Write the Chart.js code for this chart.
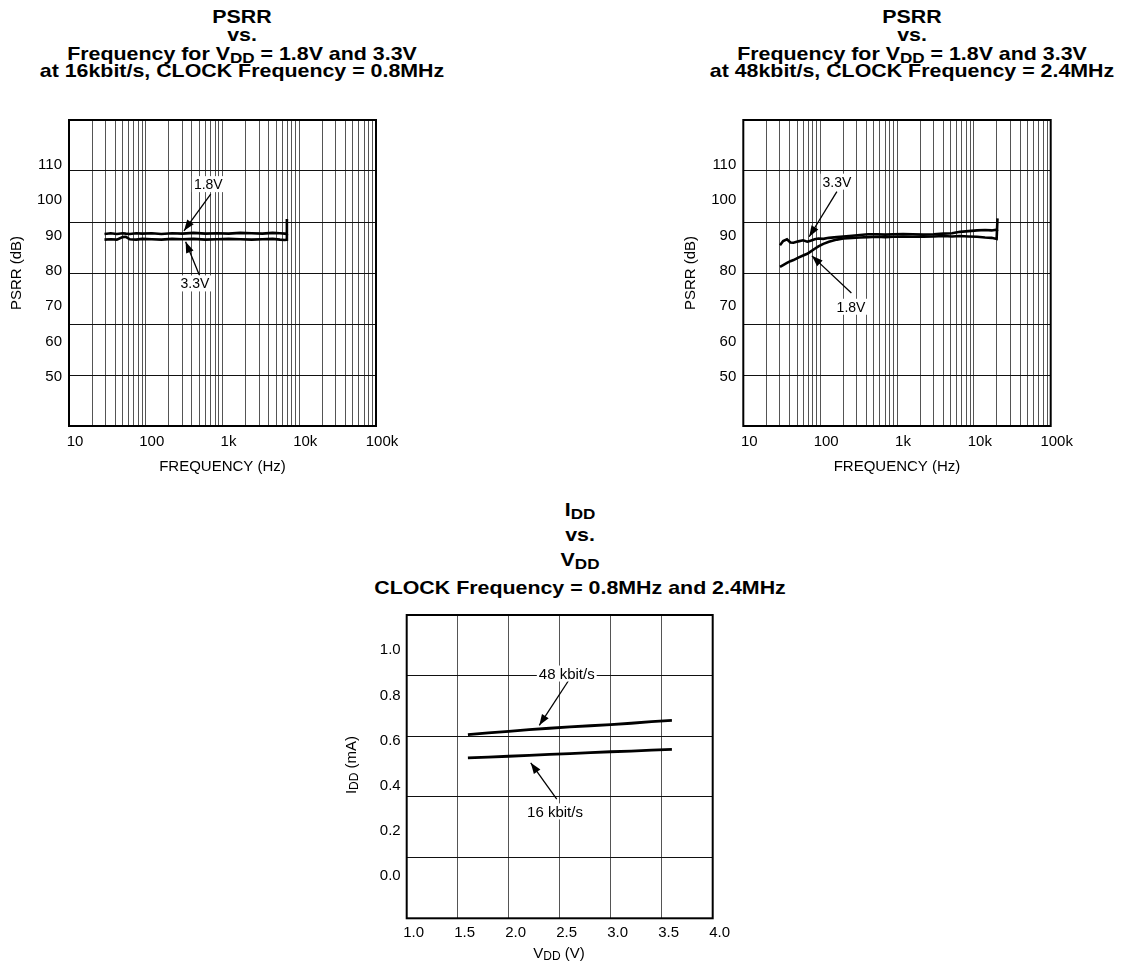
<!DOCTYPE html>
<html>
<head>
<meta charset="utf-8">
<title>PSRR and IDD</title>
<script src="https://cdn.jsdelivr.net/npm/chart.js@4.4.1/dist/chart.umd.min.js"></script>
<style>
html, body { margin: 0; padding: 0; background: #fff; overflow: hidden; }
body { width: 1123px; height: 964px; position: relative; font-family: 'Liberation Sans', Arial, Helvetica, sans-serif; color: #000; }
.plot { position: absolute; }
.ttl { position: absolute; width: 500px; text-align: center; font-weight: bold; font-size: 19px; line-height: 20px; white-space: nowrap; transform: scaleX(1.125); transform-origin: 50% 50%; }
.ttl sub, .lbl sub { font-size: 0.8em; vertical-align: baseline; position: relative; top: 0.2em; line-height: 0; }
.lbl { position: absolute; font-size: 15px; line-height: 18px; white-space: nowrap; text-align: center; }
</style>
</head>
<body>

<!-- titles -->
<div class="ttl" style="left:-8px;top:7px">PSRR</div>
<div class="ttl" style="left:-8px;top:25px">vs.</div>
<div class="ttl" style="left:-8px;top:44px">Frequency for V<sub>DD</sub> = 1.8V and 3.3V</div>
<div class="ttl" style="left:-8px;top:61px">at 16kbit/s, CLOCK Frequency = 0.8MHz</div>

<div class="ttl" style="left:662px;top:7px">PSRR</div>
<div class="ttl" style="left:662px;top:25px">vs.</div>
<div class="ttl" style="left:662px;top:44px">Frequency for V<sub>DD</sub> = 1.8V and 3.3V</div>
<div class="ttl" style="left:662px;top:61px">at 48kbit/s, CLOCK Frequency = 2.4MHz</div>

<div class="ttl" style="left:330px;top:500px">I<sub>DD</sub></div>
<div class="ttl" style="left:330px;top:525px">vs.</div>
<div class="ttl" style="left:330px;top:550px">V<sub>DD</sub></div>
<div class="ttl" style="left:330px;top:578px">CLOCK Frequency = 0.8MHz and 2.4MHz</div>

<div class="plot" style="left:0;top:100px"><canvas id="psrr16" width="400" height="380"></canvas></div>
<div class="plot" style="left:670px;top:100px"><canvas id="psrr48" width="410" height="380"></canvas></div>
<div class="plot" style="left:340px;top:600px"><canvas id="idd" width="400" height="364"></canvas></div>

<div class="lbl" style="left:459px;top:944px;width:200px">V<sub>DD</sub> (V)</div>
<div class="lbl" style="left:251px;top:756px;width:200px;transform:rotate(-90deg)">I<sub>DD</sub> (mA)</div>

<script>
// ---------- data ----------

// shared axes
const decadeVals = [10, 100, 1000, 10000, 100000];
const decadeLabels = ['10', '100', '1k', '10k', '100k'];
const psrrTicks = [50, 60, 70, 80, 90, 100, 110];
const vddTicks = [1.0, 1.5, 2.0, 2.5, 3.0, 3.5, 4.0];
const iddTicks = [0.0, 0.2, 0.4, 0.6, 0.8, 1.0];

// PSRR at 16kbit/s (Hz, dB)
const freq16 = [29, 35, 42, 50, 55, 62, 75, 90, 120, 160, 220, 300, 420, 600, 850, 1200, 1700, 2400, 3300, 4500, 5600, 6500, 6850, 6900];
const psrr16_18 = [90.4, 90.6, 90.4, 90.6, 90.5, 90.4, 90.6, 90.5, 90.6, 90.4, 90.6, 90.5, 90.7, 90.5, 90.6, 90.5, 90.7, 90.6, 90.5, 90.7, 90.6, 90.5, 90.4, 94.6];
const psrr16_33 = [88.8, 88.9, 88.8, 89.5, 89.6, 88.9, 88.8, 89.0, 88.9, 88.8, 89.0, 88.9, 89.0, 88.8, 88.9, 89.0, 88.9, 88.8, 88.9, 89.0, 88.8, 88.7, 88.8, 90.4];

// PSRR at 48kbit/s (Hz, dB)
const freq48 = [30, 33, 37, 41, 45, 52, 60, 68, 75, 85, 95, 110, 130, 165, 200, 260, 330, 420, 550, 700, 900, 1200, 1600, 2200, 3000, 4000, 5200, 6600, 8500, 11000, 14000, 17000, 19800, 20300];
const psrr48_33 = [87.2, 88.4, 88.9, 88.0, 87.9, 88.3, 88.6, 88.2, 88.5, 88.9, 89.1, 89.0, 89.3, 89.5, 89.7, 89.9, 90.1, 90.3, 90.3, 90.2, 90.3, 90.4, 90.3, 90.2, 90.3, 90.5, 90.6, 91.0, 91.2, 91.4, 91.5, 91.4, 91.6, 91.2];
const psrr48_18 = [81.1, 81.6, 82.2, 82.7, 83.0, 83.7, 84.3, 84.8, 85.4, 86.2, 86.9, 87.6, 88.2, 88.8, 89.1, 89.3, 89.4, 89.5, 89.6, 89.5, 89.6, 89.7, 89.6, 89.6, 89.7, 89.8, 89.7, 89.8, 89.7, 89.6, 89.4, 89.3, 89.0, 94.8];

// IDD vs VDD (V, mA)
const vdd = [1.6, 1.8, 2.0, 2.2, 2.4, 2.6, 2.8, 3.0, 3.2, 3.4, 3.6];
const idd48 = [0.627, 0.634, 0.641, 0.649, 0.655, 0.661, 0.666, 0.671, 0.677, 0.684, 0.690];
const idd16 = [0.524, 0.527, 0.531, 0.535, 0.539, 0.543, 0.547, 0.551, 0.554, 0.558, 0.561];

// callouts: label centre, arrow tail, arrow head (data units)
const callouts16 = [
    { text: '1.8V', at: [653, 104.5], from: [702, 101.7], to: [315, 91.3] },
    { text: '3.3V', at: [438, 76.4], from: [499, 78.8], to: [331, 88.2] }
];
const callouts48 = [
    { text: '3.3V', at: [165, 105.2], from: [165, 102.4], to: [72, 89.6] },
    { text: '1.8V', at: [252, 69.8], from: [255, 73.7], to: [78, 84.2] }
];
const calloutsIdd = [
    { text: '48 kbit/s', at: [2.569, 0.897], from: [2.584, 0.864], to: [2.30, 0.668] },
    { text: '16 kbit/s', at: [2.454, 0.287], from: [2.471, 0.341], to: [2.216, 0.502] }
];

// ---------- helpers ----------

Chart.defaults.font.family = "'Liberation Sans', Arial, Helvetica, sans-serif";
Chart.defaults.font.size = 15;
Chart.defaults.color = '#000';

const points = (xs, ys) => xs.map((x, i) => ({ x: x, y: ys[i] }));

const framePlugin = {
    id: 'frame',
    afterDraw(chart) {
        const { ctx, chartArea: a } = chart;
        ctx.save();
        ctx.strokeStyle = '#000';
        ctx.lineWidth = 2;
        ctx.strokeRect(a.left, a.top, a.right - a.left, a.bottom - a.top);
        ctx.restore();
    }
};

const calloutPlugin = {
    id: 'callouts',
    afterDatasetsDraw(chart, args, opts) {
        const { ctx } = chart;
        const xs = chart.scales.x, ys = chart.scales.y;
        ctx.save();
        (opts.items || []).forEach(it => {
            const x1 = xs.getPixelForValue(it.from[0]), y1 = ys.getPixelForValue(it.from[1]);
            const x2 = xs.getPixelForValue(it.to[0]), y2 = ys.getPixelForValue(it.to[1]);
            const tx = xs.getPixelForValue(it.at[0]), ty = ys.getPixelForValue(it.at[1]);

            ctx.strokeStyle = '#000';
            ctx.lineWidth = 1.3;
            ctx.beginPath();
            ctx.moveTo(x1, y1);
            ctx.lineTo(x2, y2);
            ctx.stroke();

            const ang = Math.atan2(y2 - y1, x2 - x1);
            const L = 11, W = 4;
            ctx.fillStyle = '#000';
            ctx.beginPath();
            ctx.moveTo(x2, y2);
            ctx.lineTo(x2 - L * Math.cos(ang) + W * Math.sin(ang), y2 - L * Math.sin(ang) - W * Math.cos(ang));
            ctx.lineTo(x2 - L * Math.cos(ang) - W * Math.sin(ang), y2 - L * Math.sin(ang) + W * Math.cos(ang));
            ctx.closePath();
            ctx.fill();

            ctx.font = (opts.size || 15) + "px 'Liberation Sans', Arial, sans-serif";
            const w = ctx.measureText(it.text).width;
            ctx.fillStyle = '#fff';
            ctx.fillRect(tx - w / 2 - 2, ty - 8, w + 4, 16);
            ctx.fillStyle = '#000';
            ctx.textAlign = 'center';
            ctx.textBaseline = 'middle';
            ctx.fillText(it.text, tx, ty + 1);
        });
        ctx.restore();
    }
};

const lineSet = (data, width) => ({
    data: data,
    borderColor: '#000',
    borderWidth: width,
    pointRadius: 0,
    tension: 0,
    fill: false
});

/* ==============================
   PSRR CHARTS
================================= */

function psrrChart(id, freqs, s18, s33, padLeft, padRight, items) {
    return new Chart(document.getElementById(id), {
        type: 'line',
        data: {
            datasets: [
                lineSet(points(freqs, s18), 2.6),
                lineSet(points(freqs, s33), 2.6)
            ]
        },
        options: {
            responsive: false,
            animation: false,
            devicePixelRatio: 1,
            layout: { padding: { top: 20, right: padRight, left: padLeft, bottom: 0 } },
            plugins: {
                legend: { display: false },
                tooltip: { enabled: false },
                callouts: { items: items, size: 14 }
            },
            scales: {
                x: {
                    type: 'logarithmic',
                    min: 10,
                    max: 100000,
                    afterBuildTicks: s => {
                        s.ticks = s.ticks.filter(t => {
                            const p = Math.pow(10, Math.floor(Math.log10(t.value) + 1e-9));
                            const m = t.value / p;
                            return Math.abs(m - Math.round(m)) < 1e-6;
                        });
                    },
                    afterFit: s => { s.height = 54; },
                    border: { display: false },
                    grid: { color: '#555', lineWidth: 1, drawTicks: false },
                    ticks: {
                        autoSkip: false,
                        maxRotation: 0,
                        padding: 7,
                        labelOffset: 6,
                        callback: v => {
                            const i = decadeVals.indexOf(v);
                            return i >= 0 ? decadeLabels[i] : '';
                        }
                    },
                    title: { display: true, text: 'FREQUENCY (Hz)', padding: { top: 0, bottom: 4 } }
                },
                y: {
                    type: 'linear',
                    position: 'left',
                    min: 36.05,
                    max: 122.65,
                    afterBuildTicks: s => { s.ticks = psrrTicks.map(v => ({ value: v })); },
                    afterFit: s => { s.width = 69; },
                    border: { display: false },
                    grid: { display: false, drawTicks: false },
                    ticks: { padding: 7 },
                    title: { display: true, text: 'PSRR (dB)', padding: { top: 8, bottom: 0 } }
                },
                yg: {
                    type: 'linear',
                    position: 'left',
                    min: 0,
                    max: 6,
                    afterBuildTicks: s => { s.ticks = [0, 1, 2, 3, 4, 5, 6].map(v => ({ value: v })); },
                    afterFit: s => { s.width = 0; },
                    border: { display: false },
                    grid: { color: '#111', lineWidth: 1, drawTicks: false },
                    ticks: { display: false }
                }
            }
        },
        plugins: [calloutPlugin, framePlugin]
    });
}

psrrChart('psrr16', freq16, psrr16_18, psrr16_33, 0, 24, callouts16);
psrrChart('psrr48', freq48, psrr48_18, psrr48_33, 4.3, 29.3, callouts48);

/* ==============================
   IDD CHART
================================= */

new Chart(document.getElementById('idd'), {
    type: 'line',
    data: {
        datasets: [
            lineSet(points(vdd, idd48), 2.8),
            lineSet(points(vdd, idd16), 2.8)
        ]
    },
    options: {
        responsive: false,
        animation: false,
        devicePixelRatio: 1,
        layout: { padding: { top: 12.7, right: 27.3, left: 0, bottom: 0 } },
        plugins: {
            legend: { display: false },
            tooltip: { enabled: false },
            callouts: { items: calloutsIdd, size: 15 }
        },
        scales: {
            x: {
                type: 'linear',
                min: 1,
                max: 4,
                afterBuildTicks: s => { s.ticks = vddTicks.map(v => ({ value: v })); },
                afterFit: s => { s.height = 45.7; },
                border: { display: false },
                grid: { color: '#555', lineWidth: 1, drawTicks: false },
                ticks: { padding: 6, labelOffset: 7, maxRotation: 0, callback: v => v.toFixed(1) }
            },
            y: {
                type: 'linear',
                position: 'left',
                min: -0.186,
                max: 1.156,
                afterBuildTicks: s => { s.ticks = iddTicks.map(v => ({ value: v })); },
                afterFit: s => { s.width = 66.7; },
                border: { display: false },
                grid: { display: false, drawTicks: false },
                ticks: { padding: 6, callback: v => v.toFixed(1) }
            },
            yg: {
                type: 'linear',
                position: 'left',
                min: 0,
                max: 5,
                afterBuildTicks: s => { s.ticks = [0, 1, 2, 3, 4, 5].map(v => ({ value: v })); },
                afterFit: s => { s.width = 0; },
                border: { display: false },
                grid: { color: '#111', lineWidth: 1, drawTicks: false },
                ticks: { display: false }
            }
        }
    },
    plugins: [calloutPlugin, framePlugin]
});
</script>
</body>
</html>
